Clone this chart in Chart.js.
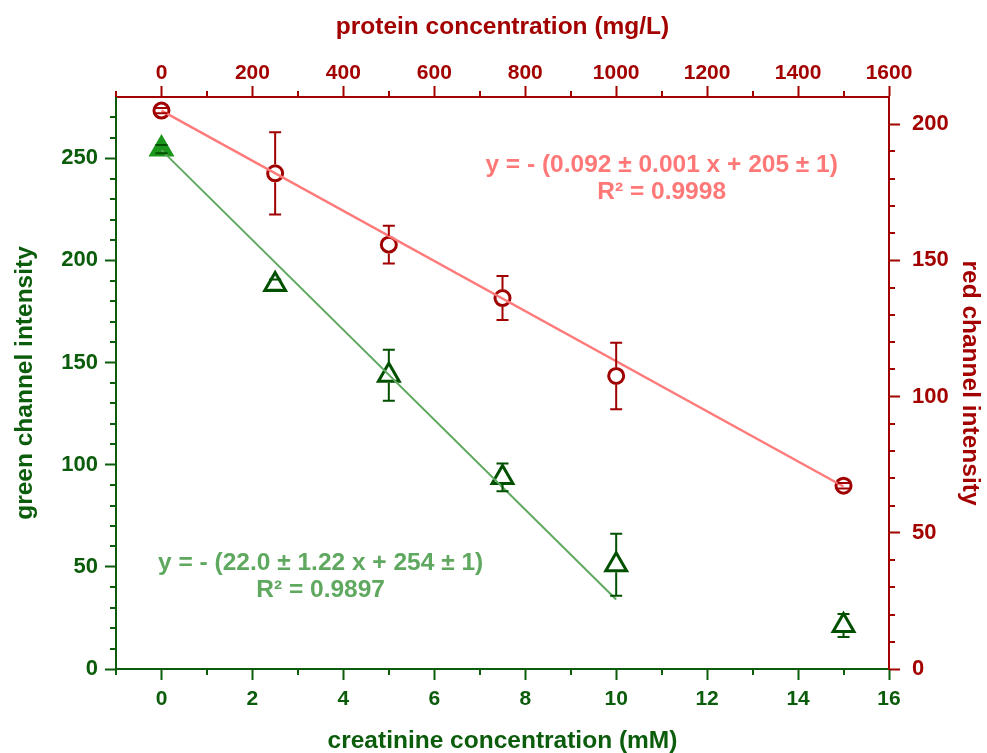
<!DOCTYPE html>
<html><head><meta charset="utf-8">
<script src="https://cdn.jsdelivr.net/npm/chart.js@4/dist/chart.umd.min.js"></script>
<style>html,body{margin:0;padding:0;background:#fff;}canvas{display:block;}</style>
</head><body>
<canvas id="c" width="987" height="753"></canvas>
<script>
// ---- data ----
const creatinine = [0, 2.5, 5, 7.5, 10, 15];
const protein = [0, 250, 500, 750, 1000, 1500];
const greenIntensity = [254.5, 188.2, 143.8, 93.8, 51, 21.3];
const greenError = [2, 2.5, 12.5, 6.8, 15.2, 5.6];
const redIntensity = [205, 182, 155.8, 136.2, 107.6, 67.3];
const redError = [1, 15.1, 6.9, 8.1, 12.2, 1];
const greenFitX = [0, 10];
const greenFitY = [254, 34];
const redFitX = [0, 1500];
const redFitY = [205, 67];
const xTicks = [0, 2, 4, 6, 8, 10, 12, 14, 16];
const x2Ticks = [0, 200, 400, 600, 800, 1000, 1200, 1400, 1600];
const yTicks = [0, 50, 100, 150, 200, 250];
const y2Ticks = [0, 50, 100, 150, 200];
const greenEquation = ['y = - (22.0 ± 1.22 x + 254 ± 1)', 'R² = 0.9897'];
const redEquation = ['y = - (0.092 ± 0.001 x + 205 ± 1)', 'R² = 0.9998'];

// ---- style ----
const GREEN = '#0b5c0b';
const RED = '#a30000';
const FONT = "'Liberation Sans', Arial, sans-serif";

function range(a, b, s) { const r = []; for (let v = a; v <= b + 1e-9; v += s) r.push(+v.toFixed(6)); return r; }
const minorSpec = [
  { id: 'x', vals: range(-1, 16, 1).filter(v => !xTicks.includes(v)), color: GREEN, side: 'bottom' },
  { id: 'x2', vals: range(-100, 1600, 100).filter(v => !x2Ticks.includes(v)), color: RED, side: 'top' },
  { id: 'y', vals: range(0, 279, 10).filter(v => !yTicks.includes(v)), color: GREEN, side: 'left' },
  { id: 'y2', vals: range(0, 209, 10).filter(v => !y2Ticks.includes(v)), color: RED, side: 'right' }
];

const extras = {
  id: 'extras',
  afterDatasetsDraw(chart) {
    const ctx = chart.ctx, ca = chart.chartArea;
    ctx.save();
    ctx.lineWidth = 2;
    minorSpec.forEach(m => {
      const sc = chart.scales[m.id];
      ctx.strokeStyle = m.color;
      m.vals.forEach(v => {
        const p = Math.round(sc.getPixelForValue(v));
        ctx.beginPath();
        if (m.side === 'bottom') { ctx.moveTo(p, ca.bottom); ctx.lineTo(p, ca.bottom + 6); }
        if (m.side === 'top') { ctx.moveTo(p, ca.top); ctx.lineTo(p, ca.top - 6); }
        if (m.side === 'left') { ctx.moveTo(ca.left, p); ctx.lineTo(ca.left - 6, p); }
        if (m.side === 'right') { ctx.moveTo(ca.right, p); ctx.lineTo(ca.right + 6, p); }
        ctx.stroke();
      });
    });
    function bars(xs, ys, errs, xId, yId, color, gapTop, gapBot) {
      const sx = chart.scales[xId], sy = chart.scales[yId];
      ctx.strokeStyle = color; ctx.lineWidth = 2;
      xs.forEach((xv, i) => {
        const px = sx.getPixelForValue(xv);
        const py = sy.getPixelForValue(ys[i]);
        const t = sy.getPixelForValue(ys[i] + errs[i]);
        const b = sy.getPixelForValue(ys[i] - errs[i]);
        ctx.beginPath();
        if (t < py - gapTop) { ctx.moveTo(px, t); ctx.lineTo(px, py - gapTop); }
        if (b > py + gapBot) { ctx.moveTo(px, py + gapBot); ctx.lineTo(px, b); }
        ctx.moveTo(px - 6, t); ctx.lineTo(px + 6, t);
        ctx.moveTo(px - 6, b); ctx.lineTo(px + 6, b);
        ctx.stroke();
      });
    }
    bars(creatinine, greenIntensity, greenError, 'x', 'y', '#005000', 13, 7.5);
    bars(protein, redIntensity, redError, 'x2', 'y2', '#a00000', 9, 9);
    function text(lines, xId, xv, yId, yv, color) {
      const sx = chart.scales[xId], sy = chart.scales[yId];
      ctx.fillStyle = color;
      ctx.font = 'bold 24.5px ' + FONT;
      ctx.textAlign = 'center'; ctx.textBaseline = 'middle';
      const px = sx.getPixelForValue(xv), py = sy.getPixelForValue(yv);
      lines.forEach((l, i) => ctx.fillText(l, px, py + i * 27));
    }
    text(greenEquation, 'x', 3.5, 'y', 52, '#5fa85f');
    text(redEquation, 'x', 11.0, 'y2', 185, '#ff7878');
    ctx.restore();
  }
};

function axis(opts) {
  return Object.assign({
    type: 'linear',
    display: true,
    grid: { display: true, drawOnChartArea: false, drawTicks: true, tickLength: 11, tickWidth: 2, tickColor: opts.color, color: opts.color },
    border: { display: true, color: opts.color, width: 2 },
    ticks: { color: opts.color, font: { family: FONT, size: opts.tsize, weight: 'bold' }, padding: opts.tpad, maxRotation: 0, autoSkip: false,
      callback: v => String(v) },
    afterBuildTicks: s => { s.ticks = opts.tickVals.map(v => ({ value: v })); },
    title: { display: true, text: opts.title, color: opts.color, font: { family: FONT, size: 24.5, weight: 'bold', lineHeight: opts.lh || 1.2 }, padding: opts.titlePad }
  }, opts.extra);
}

new Chart(document.getElementById('c'), {
  type: 'scatter',
  data: {
    datasets: [
      { type: 'line', label: 'green fit', xAxisID: 'x', yAxisID: 'y', order: 0,
        data: greenFitX.map((x, i) => ({ x, y: greenFitY[i] })),
        borderColor: '#5fa85f', borderWidth: 2, pointRadius: 0, fill: false, tension: 0 },
      { type: 'line', label: 'red fit', xAxisID: 'x2', yAxisID: 'y2', order: 0,
        data: redFitX.map((x, i) => ({ x, y: redFitY[i] })),
        borderColor: '#ff7b7b', borderWidth: 2.5, pointRadius: 0, fill: false, tension: 0 },
      { label: 'green channel', xAxisID: 'x', yAxisID: 'y', order: 1,
        data: creatinine.map((x, i) => ({ x, y: greenIntensity[i] })),
        pointStyle: 'triangle', pointRadius: 12, borderWidth: 3,
        borderColor: creatinine.map((x, i) => i === 0 ? '#1a961a' : '#005000'),
        backgroundColor: creatinine.map((x, i) => i === 0 ? '#1a961a' : '#ffffff') },
      { label: 'red channel', xAxisID: 'x2', yAxisID: 'y2', order: 1,
        data: protein.map((x, i) => ({ x, y: redIntensity[i] })),
        pointStyle: 'circle', pointRadius: 7.5, borderWidth: 3,
        borderColor: '#a00000', backgroundColor: '#ffffff' }
    ]
  },
  options: {
    responsive: false,
    devicePixelRatio: 1,
    animation: false,
    layout: { padding: 0 },
    plugins: { legend: { display: false }, tooltip: { enabled: false } },
    scales: {
      x: axis({ color: GREEN, tsize: 21, tpad: 7, tickVals: xTicks, title: 'creatinine concentration (mM)', titlePad: { top: 0, bottom: 0 }, lh: 1.0,
        extra: { position: 'bottom', min: -1, max: 16, afterFit: s => { s.height = 84; } } }),
      x2: axis({ color: RED, tsize: 21, tpad: 0, tickVals: x2Ticks, title: 'protein concentration (mg/L)', titlePad: { top: 13, bottom: 0 },
        extra: { position: 'top', min: -100, max: 1600, afterFit: s => { s.height = 97; } } }),
      y: axis({ color: GREEN, tsize: 22, tpad: 7, tickVals: yTicks, title: 'green channel intensity', titlePad: { top: 11, bottom: 0 },
        extra: { position: 'left', min: 0, max: 280, afterFit: s => { s.width = 116; } } }),
      y2: axis({ color: RED, tsize: 22, tpad: 12, tickVals: y2Ticks, title: 'red channel intensity', titlePad: { top: 3, bottom: 0 },
        extra: { position: 'right', min: 0, max: 210, afterFit: s => { s.width = 98; } } })
    }
  },
  plugins: [extras]
});
</script>
</body></html>
